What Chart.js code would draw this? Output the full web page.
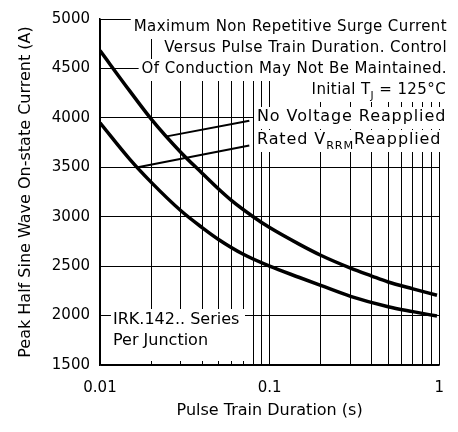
<!DOCTYPE html>
<html>
<head>
<meta charset="utf-8">
<script src="https://cdn.jsdelivr.net/npm/chart.js@4.4.1/dist/chart.umd.min.js"></script>
<style>
  html, body { margin: 0; padding: 0; background: #fff; }
</style>
</head>
<body>
<canvas id="surge" width="458" height="432"></canvas>
<script>
// pulse train duration (s) and peak current (A)
const noVoltX = [0.01, 0.015, 0.02, 0.03, 0.04, 0.05, 0.06, 0.08, 0.1, 0.15, 0.2, 0.3, 0.4, 0.5, 0.7, 0.97];
const noVoltY = [4680, 4270, 3990, 3650, 3440, 3280, 3160, 3000, 2890, 2720, 2610, 2480, 2400, 2340, 2270, 2205];

const ratedX = [0.01, 0.015, 0.02, 0.03, 0.04, 0.05, 0.07, 0.1, 0.15, 0.2, 0.3, 0.5, 0.7, 0.97];
const ratedY = [3950, 3580, 3350, 3060, 2890, 2770, 2620, 2500, 2385, 2305, 2195, 2090, 2040, 1995];

// leader lines from the labels to the curves
const leadNoVoltX = [0.0243, 0.0759];
const leadNoVoltY = [3810, 3970];
const leadRatedX = [0.0167, 0.0759];
const leadRatedY = [3500, 3720];

// log grid: 1..9 in each decade
const xGrid = [0.01, 0.02, 0.03, 0.04, 0.05, 0.06, 0.07, 0.08, 0.09,
               0.1, 0.2, 0.3, 0.4, 0.5, 0.6, 0.7, 0.8, 0.9, 1];
const xTickLabels = ['0.01', '0.1', '1'];
const yMin = 1500, yMax = 5000, yStep = 500;

const FONT = 'DejaVu Sans';

const pts = (xs, ys) => xs.map((x, i) => ({ x: x, y: ys[i] }));

// text boxes with white backing, drawn over the grid
const notes = {
  id: 'notes',
  beforeDatasetsDraw(chart) {
    const ctx = chart.ctx;
    ctx.save();
    ctx.textBaseline = 'middle';

    // text with subscript pieces: [text, isSub]
    const rich = (parts, x, y, size, align, spacing) => {
      ctx.letterSpacing = spacing || '0px';
      let total = 0;
      const widths = parts.map(p => {
        ctx.font = (p[1] ? size * 0.7 : size) + 'px "' + FONT + '"';
        const w = ctx.measureText(p[0]).width;
        total += w;
        return w;
      });
      let cx = align === 'right' ? x - total : x;
      ctx.fillStyle = '#fff';
      ctx.fillRect(cx - 3, y - 10, total + 5, 22);
      ctx.fillStyle = '#000';
      ctx.textAlign = 'left';
      parts.forEach((p, i) => {
        ctx.font = (p[1] ? size * 0.7 : size) + 'px "' + FONT + '"';
        ctx.fillText(p[0], cx, p[1] ? y + 6 : y);
        cx += widths[i];
      });
    };

    // main note, right aligned
    const boxLines = ['Maximum Non Repetitive Surge Current',
                      'Versus Pulse Train Duration. Control',
                      'Of Conduction May Not Be Maintained.'];
    boxLines.forEach((t, i) => rich([[t, false]], 447, 27 + i * 21, 15, 'right', '0.4px'));
    rich([['Initial T', false], ['J', true], [' = 125°C', false]], 446, 90, 15, 'right', '0.4px');

    rich([['No Voltage Reapplied', false]], 257, 117, 16, 'left', '0.9px');
    rich([['Rated V', false], ['RRM', true], ['Reapplied', false]], 257, 140, 16, 'left', '0.9px');

    // series label, bottom left
    ctx.letterSpacing = '0px';
    ctx.font = '16px "' + FONT + '"';
    ctx.fillStyle = '#fff';
    ctx.fillRect(111, 309, 134, 52);
    ctx.fillStyle = '#000';
    ctx.textAlign = 'left';
    ctx.fillText('IRK.142.. Series', 113, 320);
    ctx.fillText('Per Junction', 113, 341);

    ctx.restore();
  }
};

const line = (data, width) => ({
  data: data,
  borderColor: '#000',
  borderWidth: width,
  pointRadius: 0,
  fill: false,
  cubicInterpolationMode: 'monotone'
});

new Chart(document.getElementById('surge'), {
  type: 'line',
  data: {
    datasets: [
      line(pts(noVoltX, noVoltY), 3.5),
      line(pts(ratedX, ratedY), 3.5),
      line(pts(leadNoVoltX, leadNoVoltY), 2),
      line(pts(leadRatedX, leadRatedY), 2)
    ]
  },
  options: {
    responsive: false,
    animation: false,
    layout: { padding: { top: 12, right: 6, left: 0, bottom: 0 } },
    plugins: { legend: { display: false }, tooltip: { enabled: false } },
    scales: {
      x: {
        type: 'logarithmic',
        min: 0.01,
        max: 1,
        afterBuildTicks: s => { s.ticks = xGrid.map(v => ({ value: v })); },
        afterFit: s => { s.height = 67; },
        ticks: {
          autoSkip: false,
          maxRotation: 0,
          padding: 14,
          color: '#000',
          font: { family: FONT, size: 15 },
          callback: v => {
            const lbl = xTickLabels.find(t => Math.abs(parseFloat(t) - v) < 1e-9);
            return lbl || '';
          }
        },
        grid: { color: '#000', lineWidth: 1, drawTicks: false },
        border: { color: '#000', width: 1.5 },
        title: {
          display: true,
          text: 'Pulse Train Duration (s)',
          color: '#000',
          font: { family: FONT, size: 16 },
          padding: { top: 0, bottom: 12 }
        }
      },
      y: {
        type: 'linear',
        min: yMin,
        max: yMax,
        afterFit: s => { s.width = 100; },
        ticks: {
          stepSize: yStep,
          padding: 10,
          color: '#000',
          font: { family: FONT, size: 15 },
          callback: v => String(v)
        },
        grid: { color: '#000', lineWidth: 1, drawTicks: false },
        border: { color: '#000', width: 1.5 },
        title: {
          display: true,
          text: 'Peak Half Sine Wave On-state Current (A)',
          color: '#000',
          font: { family: FONT, size: 16 },
          padding: { top: 16, bottom: 0 }
        }
      }
    }
  },
  plugins: [notes]
});
</script>
</body>
</html>
